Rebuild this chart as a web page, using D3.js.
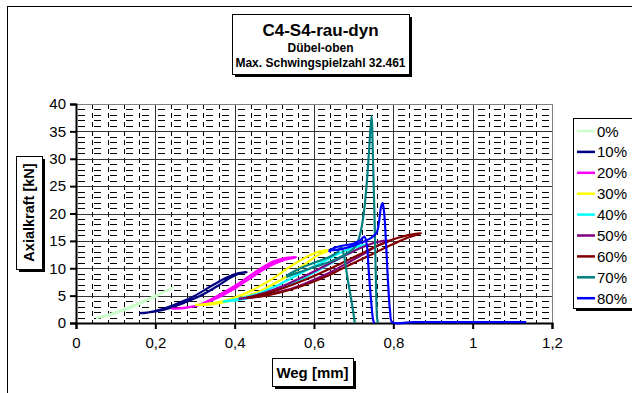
<!DOCTYPE html>
<html><head><meta charset="utf-8">
<script src="https://cdn.jsdelivr.net/npm/d3@7"></script>
<style>body{margin:0;background:#fff}svg{display:block;font-family:"Liberation Sans",Arial,sans-serif}</style>
</head><body><svg id="c" width="632" height="393"></svg>
<script>
// ---- data ----
const titleLines = ["C4-S4-rau-dyn", "Dübel-oben", "Max. Schwingspielzahl 32.461"];
const xTitle = "Weg [mm]";
const yTitle = "Axialkraft [kN]";
const xTicks = [0, 0.2, 0.4, 0.6, 0.8, 1, 1.2];
const yTicks = [0, 5, 10, 15, 20, 25, 30, 35, 40];
const seriesNames = ["0%", "10%", "20%", "30%", "40%", "50%", "60%", "70%", "80%"];
const seriesColors = ["#ccffcc", "#000080", "#ff00ff", "#ffff00", "#00ffff", "#800080", "#800000", "#008080", "#0000ff"];

const s0 = [[[0.05,0.9],[0.08,1.3],[0.11,2.0],[0.14,2.8],[0.17,3.8],[0.20,4.8],[0.22,5.6],[0.245,6.5],[0.23,6.0],[0.20,5.0],[0.16,3.7],[0.12,2.5],[0.08,1.5],[0.05,0.9]]];
const s10 = [[[0.16,1.8],[0.20,2.1],[0.24,2.8],[0.28,3.9],[0.32,5.2],[0.36,6.9],[0.39,8.3],[0.41,9.0],[0.43,9.3],[0.41,9.1],[0.38,8.3],[0.34,6.7],[0.30,5.0],[0.26,3.7],[0.22,2.6],[0.18,1.9],[0.16,1.8]]];
const s20 = [[[0.24,2.6],[0.28,2.8],[0.32,3.5],[0.36,4.7],[0.40,6.3],[0.44,8.2],[0.48,10.1],[0.52,11.4],[0.555,12.0],[0.53,11.9],[0.50,11.3],[0.46,9.7],[0.42,7.7],[0.38,5.9],[0.34,4.3],[0.30,3.1],[0.24,2.6]]];
const s30 = [[[0.30,3.3],[0.34,3.4],[0.38,3.9],[0.42,4.7],[0.46,5.7],[0.50,7.2],[0.54,8.9],[0.58,10.9],[0.61,12.4],[0.64,13.3],[0.61,13.0],[0.58,12.0],[0.54,10.3],[0.50,8.3],[0.46,6.6],[0.42,5.2],[0.36,3.8],[0.30,3.3]]];
const s40 = [[[0.37,3.9],[0.41,4.2],[0.45,4.8],[0.49,5.6],[0.53,6.7],[0.57,8.0],[0.61,9.6],[0.65,11.2],[0.69,12.8],[0.73,14.3],[0.70,13.8],[0.66,12.6],[0.62,11.1],[0.58,9.6],[0.54,8.1],[0.50,6.6],[0.46,5.4],[0.42,4.6],[0.37,3.9]]];
const s50 = [[[0.41,4.4],[0.45,4.7],[0.49,5.3],[0.53,6.0],[0.57,7.0],[0.61,8.2],[0.65,9.6],[0.69,11.2],[0.73,12.8],[0.76,14.1],[0.79,15.0],[0.76,14.8],[0.72,13.8],[0.68,12.4],[0.64,10.9],[0.60,9.4],[0.56,8.0],[0.52,6.7],[0.48,5.6],[0.44,4.8],[0.41,4.4]]];
const s60 = [[[0.43,4.6],[0.47,4.9],[0.51,5.5],[0.55,6.3],[0.59,7.3],[0.63,8.5],[0.67,9.9],[0.71,11.3],[0.75,12.7],[0.79,14.1],[0.83,15.4],[0.87,16.4],[0.84,16.1],[0.80,15.3],[0.76,14.1],[0.72,12.7],[0.68,11.3],[0.64,9.9],[0.60,8.6],[0.56,7.4],[0.52,6.3],[0.48,5.4],[0.43,4.6]]];
const s70 = [
  [[0.53,8.4],[0.56,9.2],[0.60,10.2],[0.64,11.2],[0.67,12.2],[0.70,13.6],[0.712,15.2],[0.72,17.5],[0.727,21],[0.733,25.5],[0.739,31.6],[0.745,37.8],[0.749,29],[0.753,18],[0.756,8],[0.759,1],[0.761,0]],
  [[0.53,8.6],[0.56,9.8],[0.60,11.0],[0.64,12.1],[0.66,13.0],[0.668,14.0],[0.675,12.5],[0.685,8.0],[0.695,3.8],[0.703,0]]
];
const s80 = [
  [[0.637,13.0],[0.65,13.7],[0.67,14.1],[0.70,14.5],[0.718,15.2],[0.727,15.8],[0.733,14.3],[0.738,9.5],[0.744,4.0],[0.750,0.3],[0.753,0]],
  [[0.637,13.3],[0.66,13.4],[0.69,13.9],[0.72,14.7],[0.745,15.6],[0.758,16.5],[0.764,18.5],[0.769,21.2],[0.773,21.9],[0.777,20.0],[0.782,14.0],[0.787,7.0],[0.792,2.0],[0.797,0.15],[0.85,0.15],[1.0,0.15],[1.135,0.15]]
];
const seriesData = [s0, s10, s20, s30, s40, s50, s60, s70, s80];

// ---- chart ----
const svg = d3.select("#c");
const L = 76, R = 552, T = 104, B = 323;
const x = d3.scaleLinear().domain([0, 1.2]).range([L, R]);
const y = d3.scaleLinear().domain([0, 40]).range([B, T]);

// outer frame
svg.append("rect").attr("x", 7.5).attr("y", 6.5).attr("width", 700).attr("height", 500)
  .attr("fill", "none").attr("stroke", "#000").attr("stroke-width", 1);

// grid
const g = svg.append("g");
const minorY = d3.range(1, 40).filter(v => v % 5 !== 0);
const minorX = d3.range(1, 30).filter(i => i % 5 !== 0).map(i => i * 0.04);
g.selectAll(".mh").data(minorY).join("line")
  .attr("x1", L).attr("x2", R).attr("y1", d => Math.round(y(d)) + 0.5).attr("y2", d => Math.round(y(d)) + 0.5)
  .attr("stroke", "#000").attr("stroke-width", 1).attr("stroke-dasharray", "7,9").attr("stroke-dashoffset", -2);
g.selectAll(".mv").data(minorX).join("line")
  .attr("y1", T).attr("y2", B).attr("x1", d => Math.round(x(d)) + 0.5).attr("x2", d => Math.round(x(d)) + 0.5)
  .attr("stroke", "#000").attr("stroke-width", 1).attr("stroke-dasharray", "5,4");
g.selectAll(".Mh").data(yTicks.filter(v => v > 0 && v < 40)).join("line")
  .attr("x1", L).attr("x2", R).attr("y1", d => Math.round(y(d)) + 0.5).attr("y2", d => Math.round(y(d)) + 0.5)
  .attr("stroke", "#333").attr("stroke-width", 1);
g.selectAll(".Mv").data(xTicks.filter(v => v > 0 && v < 1.2)).join("line")
  .attr("y1", T).attr("y2", B).attr("x1", d => Math.round(x(d)) + 0.5).attr("x2", d => Math.round(x(d)) + 0.5)
  .attr("stroke", "#333").attr("stroke-width", 1);
// plot border
svg.append("rect").attr("x", L + 0.5).attr("y", T + 0.5).attr("width", R - L).attr("height", B - T)
  .attr("fill", "none").attr("stroke", "#808080").attr("stroke-width", 1);

// axes
const yAxis = d3.axisLeft(y).tickValues(yTicks).tickSize(6).tickPadding(4).tickFormat(d3.format("d"));
const xAxis = d3.axisBottom(x).tickValues(xTicks).tickSize(6).tickPadding(8).tickFormat(d => String(d).replace(".", ","));
const ya = svg.append("g").attr("transform", `translate(${L},0)`).call(yAxis);
const xa = svg.append("g").attr("transform", `translate(0,${B})`).call(xAxis);
[ya, xa].forEach(a => {
  a.select(".domain").attr("stroke", "#000").attr("stroke-width", 2);
  a.selectAll(".tick line").attr("stroke", "#000").attr("stroke-width", 2);
  a.selectAll("text").attr("font-size", 15).attr("fill", "#000").attr("font-family", "Liberation Sans, Arial, sans-serif");
});

// data lines
const line = d3.line().x(d => x(d[0])).y(d => y(d[1])).curve(d3.curveCatmullRom.alpha(0.5));
const lg = svg.append("g");
seriesData.forEach((segs, i) => {
  segs.forEach(seg => {
    lg.append("path").attr("d", line(seg)).attr("fill", "none")
      .attr("stroke", seriesColors[i]).attr("stroke-width", 2.2).attr("stroke-linejoin", "round");
  });
});

// boxed text helper
function box(x0, y0, w, h) {
  svg.append("rect").attr("x", x0 + 3).attr("y", y0 + 3).attr("width", w).attr("height", h).attr("fill", "#000");
  svg.append("rect").attr("x", x0 + 0.5).attr("y", y0 + 0.5).attr("width", w).attr("height", h)
    .attr("fill", "#fff").attr("stroke", "#000").attr("stroke-width", 1);
}

// title
box(232, 14, 177, 60);
svg.append("text").attr("x", 320.5).attr("y", 36).attr("text-anchor", "middle")
  .attr("font-size", 17).attr("font-weight", "bold").text(titleLines[0]);
svg.append("text").attr("x", 320.5).attr("y", 51.5).attr("text-anchor", "middle")
  .attr("font-size", 12).attr("font-weight", "bold").text(titleLines[1]);
svg.append("text").attr("x", 320.5).attr("y", 66.5).attr("text-anchor", "middle")
  .attr("font-size", 12).attr("font-weight", "bold").text(titleLines[2]);

// axis titles
box(16, 156, 26, 113);
svg.append("text").attr("transform", "translate(34,212.5) rotate(-90)").attr("text-anchor", "middle")
  .attr("font-size", 14.5).attr("font-weight", "bold").text(yTitle);
box(272, 358, 81, 28);
svg.append("text").attr("x", 312.5).attr("y", 377.5).attr("text-anchor", "middle")
  .attr("font-size", 15).attr("font-weight", "bold").text(xTitle);

// legend
box(573, 118, 80, 190);
const leg = svg.append("g");
seriesNames.forEach((n, i) => {
  const yy = 131 + i * 20.9;
  leg.append("line").attr("x1", 577).attr("x2", 595).attr("y1", yy).attr("y2", yy)
    .attr("stroke", seriesColors[i]).attr("stroke-width", 2.5);
  leg.append("text").attr("x", 597).attr("y", yy + 5.5).attr("font-size", 15).text(n);
});
</script></body></html>
